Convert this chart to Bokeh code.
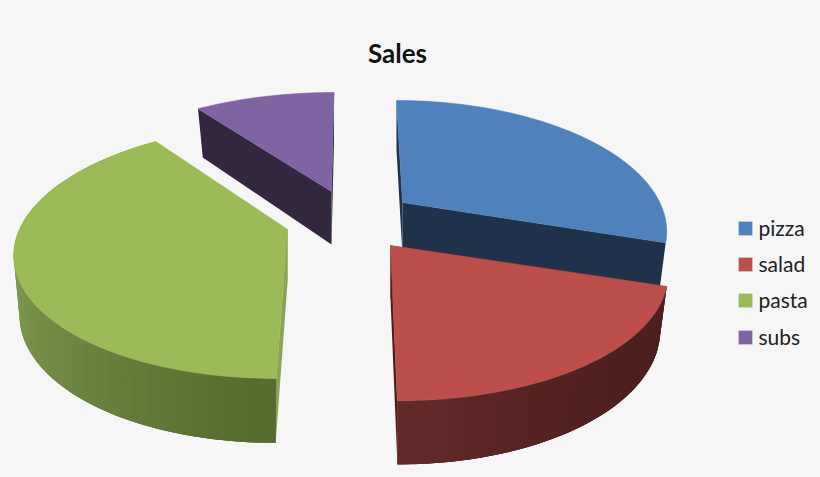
import numpy as np
from bokeh.plotting import figure
from bokeh.models import Range1d
from bokeh.core.properties import value
from bokeh.embed import file_html
from bokeh.resources import INLINE

title = "Sales"
categories = ["pizza", "salad", "pasta", "subs"]
shares = [30, 20, 40, 10]
start_angle = 0.0

top_colors = ["#4f81bd", "#bc4f4b", "#9bbb59", "#8064a2"]
face_colors = ["#1f324a", "#4a1e1c", "#8aa552", "#32273f"]
wall_dark = ["#1f324a", "#4a1f1c", "#566b30", "#32273f"]
wall_light = ["#1f324a", "#622b29", "#8ba658", "#32273f"]
has_wall = [False, True, True, False]

apex_x = [402, 390, 287, 331]
apex_y = [202, 245, 229, 191]
scale_x = [0.96, 1.01, 1.0, 1.0]
scale_y = [1.02, 1.035, 1.03, 0.99]
persp = [0.2, 0.2, 0.17, 0.2]
BG = "#f6f6f6"
X, Y = 268, 120
X2, Y2, K2, H = 260, 127, 0.208, 53
X0, SHEAR = 352, 0.144

def top(i, t):
    d = 1 + persp[i] * np.cos(t)
    sh = -SHEAR * (apex_x[i] - X0) * np.cos(t)
    return (apex_x[i] + (scale_x[i] * X * np.sin(t) + sh) / d,
            apex_y[i] - scale_y[i] * Y * np.cos(t) / d)

def bottom(i, t):
    d = 1 + K2 * np.cos(t)
    sh = -SHEAR * (apex_x[i] - X0) * np.cos(t)
    return (apex_x[i] + (scale_x[i] * X2 * np.sin(t) + sh) / d,
            apex_y[i] + H - min(scale_y[i], 1.035 if i == 1 else 1.0) * Y2 * np.cos(t) / d)

def mix(a, b, f):
    ca = [int(a[j:j + 2], 16) for j in (1, 3, 5)]
    cb = [int(b[j:j + 2], 16) for j in (1, 3, 5)]
    return "#%02x%02x%02x" % tuple(round(p + (q - p) * f) for p, q in zip(ca, cb))

total = sum(shares)
edges = np.radians(start_angle + np.cumsum([0] + shares) * 360.0 / total)
xs, ys, fills, alphas = [], [], [], []

def add(px, py, c, a=1.0):
    xs.append(list(map(float, px)))
    ys.append(list(map(float, py)))
    fills.append(c)
    alphas.append(a)

for i in [3, 0, 1, 2]:
    a0, a1 = edges[i], edges[i + 1]
    ax, ay = apex_x[i], apex_y[i]
    for a in (a0, a1):
        tx, ty = top(i, a)
        bx, by = bottom(i, a)
        add([ax, tx, bx, ax], [ay, ty, by, ay + H], face_colors[i], 0.0)
    if has_wall[i]:
        n = max(8, int(np.degrees(a1 - a0) / 3))
        grid = np.linspace(a0, a1, n + 1)
        order = range(n) if i == 1 else range(n - 1, -1, -1)
        for j in order:
            # each strip runs on under its neighbour, so no seam shows
            lo = grid[max(j - 1, 0)]
            hi = grid[min(j + 2, n)]
            tt = np.linspace(lo, hi, 6)
            tx, ty = top(i, tt)
            bx, by = bottom(i, tt)
            mid = (grid[j] + grid[j + 1]) / 2
            f = np.clip(abs(np.degrees(mid) - 180) / 90, 0, 1)
            shade = (1 - f) ** 3 if i == 1 else f
            add(list(tx) + list(bx[::-1]), list(ty) + list(by[::-1]),
                mix(wall_dark[i], wall_light[i], shade), 0.0)
    tt = np.linspace(a0, a1, 80)
    tx, ty = top(i, tt)
    add([ax] + list(tx), [ay] + list(ty), top_colors[i], 1.0)

p = figure(width=816, height=470, x_range=Range1d(0, 816), y_range=Range1d(470, 0),
           toolbar_location=None, output_backend="svg", min_border=0,
           background_fill_color=BG, border_fill_color=BG, outline_line_color=None)
p.axis.visible = False
p.grid.visible = False

p.patches(xs, ys, fill_color=fills, line_color=fills, line_alpha=alphas, line_width=0.6)

p.text([397], [52], text=[title], text_font=value("Lato"), text_font_size="26px",
       text_font_style="bold", text_color="#111111", text_align="center", text_baseline="middle")

leg_y = [228, 264, 300, 337]
p.rect([745] * 4, leg_y, width=14, height=14, fill_color=top_colors, line_color="#d5d9e4", line_width=0.5)
p.text([758] * 4, [v - 1 for v in leg_y], text=categories, text_font=value("Lato"), text_font_size="21px",
       text_color="#222222", text_align="left", text_baseline="middle")

html = file_html(p, INLINE)
html = html.replace("<head>", "<head><style>html,body{background:%s}</style>" % BG, 1)
open("out.html", "w").write(html)
